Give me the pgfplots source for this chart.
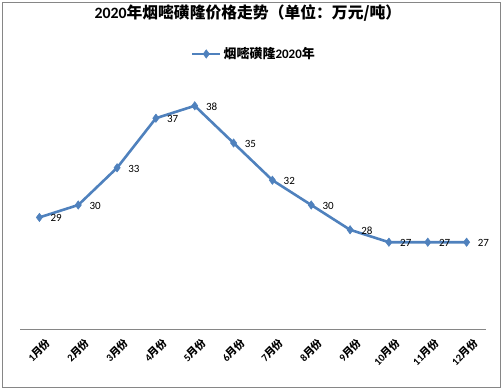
\documentclass[border=0pt]{standalone}
\usepackage{pgfplots}
\pgfplotsset{compat=1.18}
\usepackage{fontspec}
\setmainfont{Carlito}
\newfontfamily\cjk{Noto Sans CJK SC}
\definecolor{lineblue}{RGB}{79,129,189}
\definecolor{framegray}{RGB}{134,134,134}
\newcommand{\mlab}[1]{{\bfseries #1}{\cjk\bfseries 月份}}
\begin{document}
\begin{tikzpicture}[x=1bp,y=1bp]
\useasboundingbox (-20,-61) rectangle (483,329);
\draw[framegray, line width=0.9bp] (-17.5,-58) rectangle (480.5,326.5);
\begin{axis}[
  at={(0,0)}, anchor=origin,
  scale only axis,
  width=466bp, height=248bp,
  xmin=0.5, xmax=12.5, ymin=20, ymax=40,
  axis line style={draw=none},
  ytick=\empty,
  xtick={1,...,12},
  xticklabels={\mlab{1},\mlab{2},\mlab{3},\mlab{4},\mlab{5},\mlab{6},\mlab{7},\mlab{8},\mlab{9},\mlab{10},\mlab{11},\mlab{12}},
  major tick length=0pt,
  xticklabel style={rotate=45, anchor=east, font=\fontsize{10.5bp}{12bp}\selectfont, inner sep=0pt, xshift=-2bp, yshift=-15bp},
  clip=false,
  title={{\bfseries 2020}{\cjk\bfseries 年烟嘧磺隆价格走势（单位：万元/吨）}},
  title style={at={(0.489,1.25)}, anchor=center, font=\fontsize{15.8bp}{18bp}\selectfont, inner sep=0pt},
  legend style={at={(0.502,1.109)}, anchor=center, draw=none, fill=none, font=\fontsize{13bp}{15bp}\selectfont, inner sep=0pt, legend cell align=left},
  legend image code/.code={\draw[mark repeat=2,mark phase=2,#1] plot coordinates {(0bp,0bp)(14bp,0bp)(28bp,0bp)};},
  nodes near coords,
  nodes near coords style={anchor=west, xshift=11bp, yshift=-1bp, inner sep=0pt, font=\fontsize{11bp}{13bp}\selectfont, text=black},
  point meta=explicit symbolic,
]
\draw[framegray, line width=1bp] (rel axis cs:0,0) -- (rel axis cs:1,0);
\addplot[lineblue, line width=2.6bp, mark=diamond*, mark size=4.2bp, mark options={fill=lineblue, draw=lineblue, line width=0.5bp}]
  table[meta=lab] {
x y lab
1 29.0 29
2 30.0 30
3 33.0 33
4 37.0 37
5 38.0 38
6 35.0 35
7 32.0 32
8 30.0 30
9 28.0 28
10 27.0 27
11 27.0 27
12 27.0 27
};
\addlegendentry{{\cjk\bfseries 烟嘧磺隆}{\bfseries 2020}{\cjk\bfseries 年}}
\end{axis}
\end{tikzpicture}
\end{document}
